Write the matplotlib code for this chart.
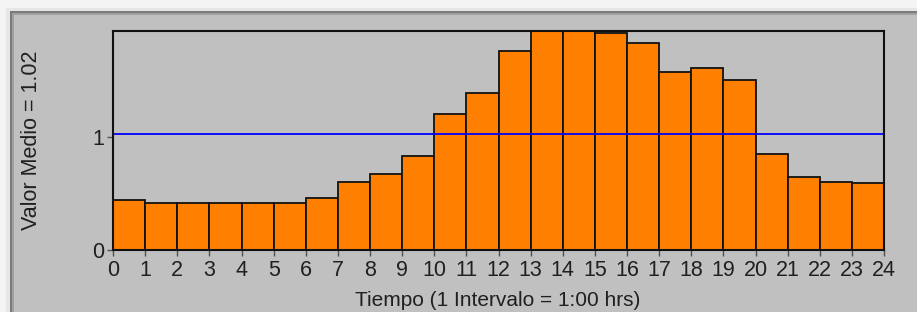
import matplotlib
matplotlib.use("Agg")
import matplotlib.pyplot as plt
from matplotlib.patches import Rectangle

hours = list(range(24))
values = [0.44, 0.41, 0.41, 0.41, 0.41, 0.41, 0.46, 0.60, 0.67, 0.83,
          1.20, 1.38, 1.75, 1.95, 1.95, 1.91, 1.82, 1.57, 1.60, 1.50,
          0.85, 0.64, 0.60, 0.59]
mean_value = 1.02
xticks = list(range(25))
yticks = [0, 1]
ylabel = "Valor Medio = 1.02"
xlabel = "Tiempo (1 Intervalo = 1:00 hrs)"

plt.rcParams['font.family'] = ['Liberation Sans', 'DejaVu Sans']

W, H = 917, 312
fig = plt.figure(figsize=(W / 100, H / 100), dpi=100)
fig.patch.set_facecolor('#f4f4f4')

def px_rect(x0, y0, x1, y1, color):
    fig.patches.append(Rectangle((x0 / W, 1 - y1 / H), (x1 - x0) / W, (y1 - y0) / H,
                                 transform=fig.transFigure, facecolor=color,
                                 edgecolor='none', zorder=-10))

px_rect(6, 8, W, H, '#e6e6e6')
px_rect(10, 11, W, H, '#7a7a7a')
px_rect(12, 13, W, H, '#a0a0a0')
px_rect(14, 15, W, H, '#c0c0c0')

ax = fig.add_axes([113 / W, 1 - 250 / H, (884 - 113) / W, (250 - 31) / H])
ax.set_facecolor('#c0c0c0')
ax.bar(hours, values, width=1.0, align='edge', color='#ff8000',
       edgecolor='#111111', linewidth=1.3, zorder=2)
ax.axhline(mean_value, color='#0000ff', linewidth=1.3, zorder=3)

ax.set_xlim(0, 24)
ax.set_ylim(0, 1.93)
ax.set_xticks(xticks)
ax.set_xticklabels([str(t) for t in xticks])
ax.set_yticks(yticks)
ax.set_yticklabels([str(t) for t in yticks])
ax.tick_params(axis='both', direction='out', length=4, width=1, color='#505050',
               labelsize=15.5, labelcolor='#202020')
ax.tick_params(axis='x', pad=3)
ax.tick_params(axis='y', pad=2)
for s in ax.spines.values():
    s.set_color('#111111')
    s.set_linewidth(1.5)
    s.set_zorder(5)

fig.text(498 / W, 1 - 306 / H, xlabel, ha='center', va='baseline',
         fontsize=15, color='#202020')
fig.text(37 / W, 1 - 140 / H, ylabel, rotation=90, ha='center', va='baseline',
         rotation_mode='anchor', fontsize=15.5, color='#202020')

fig.savefig('out.png', dpi=100, facecolor=fig.get_facecolor())
